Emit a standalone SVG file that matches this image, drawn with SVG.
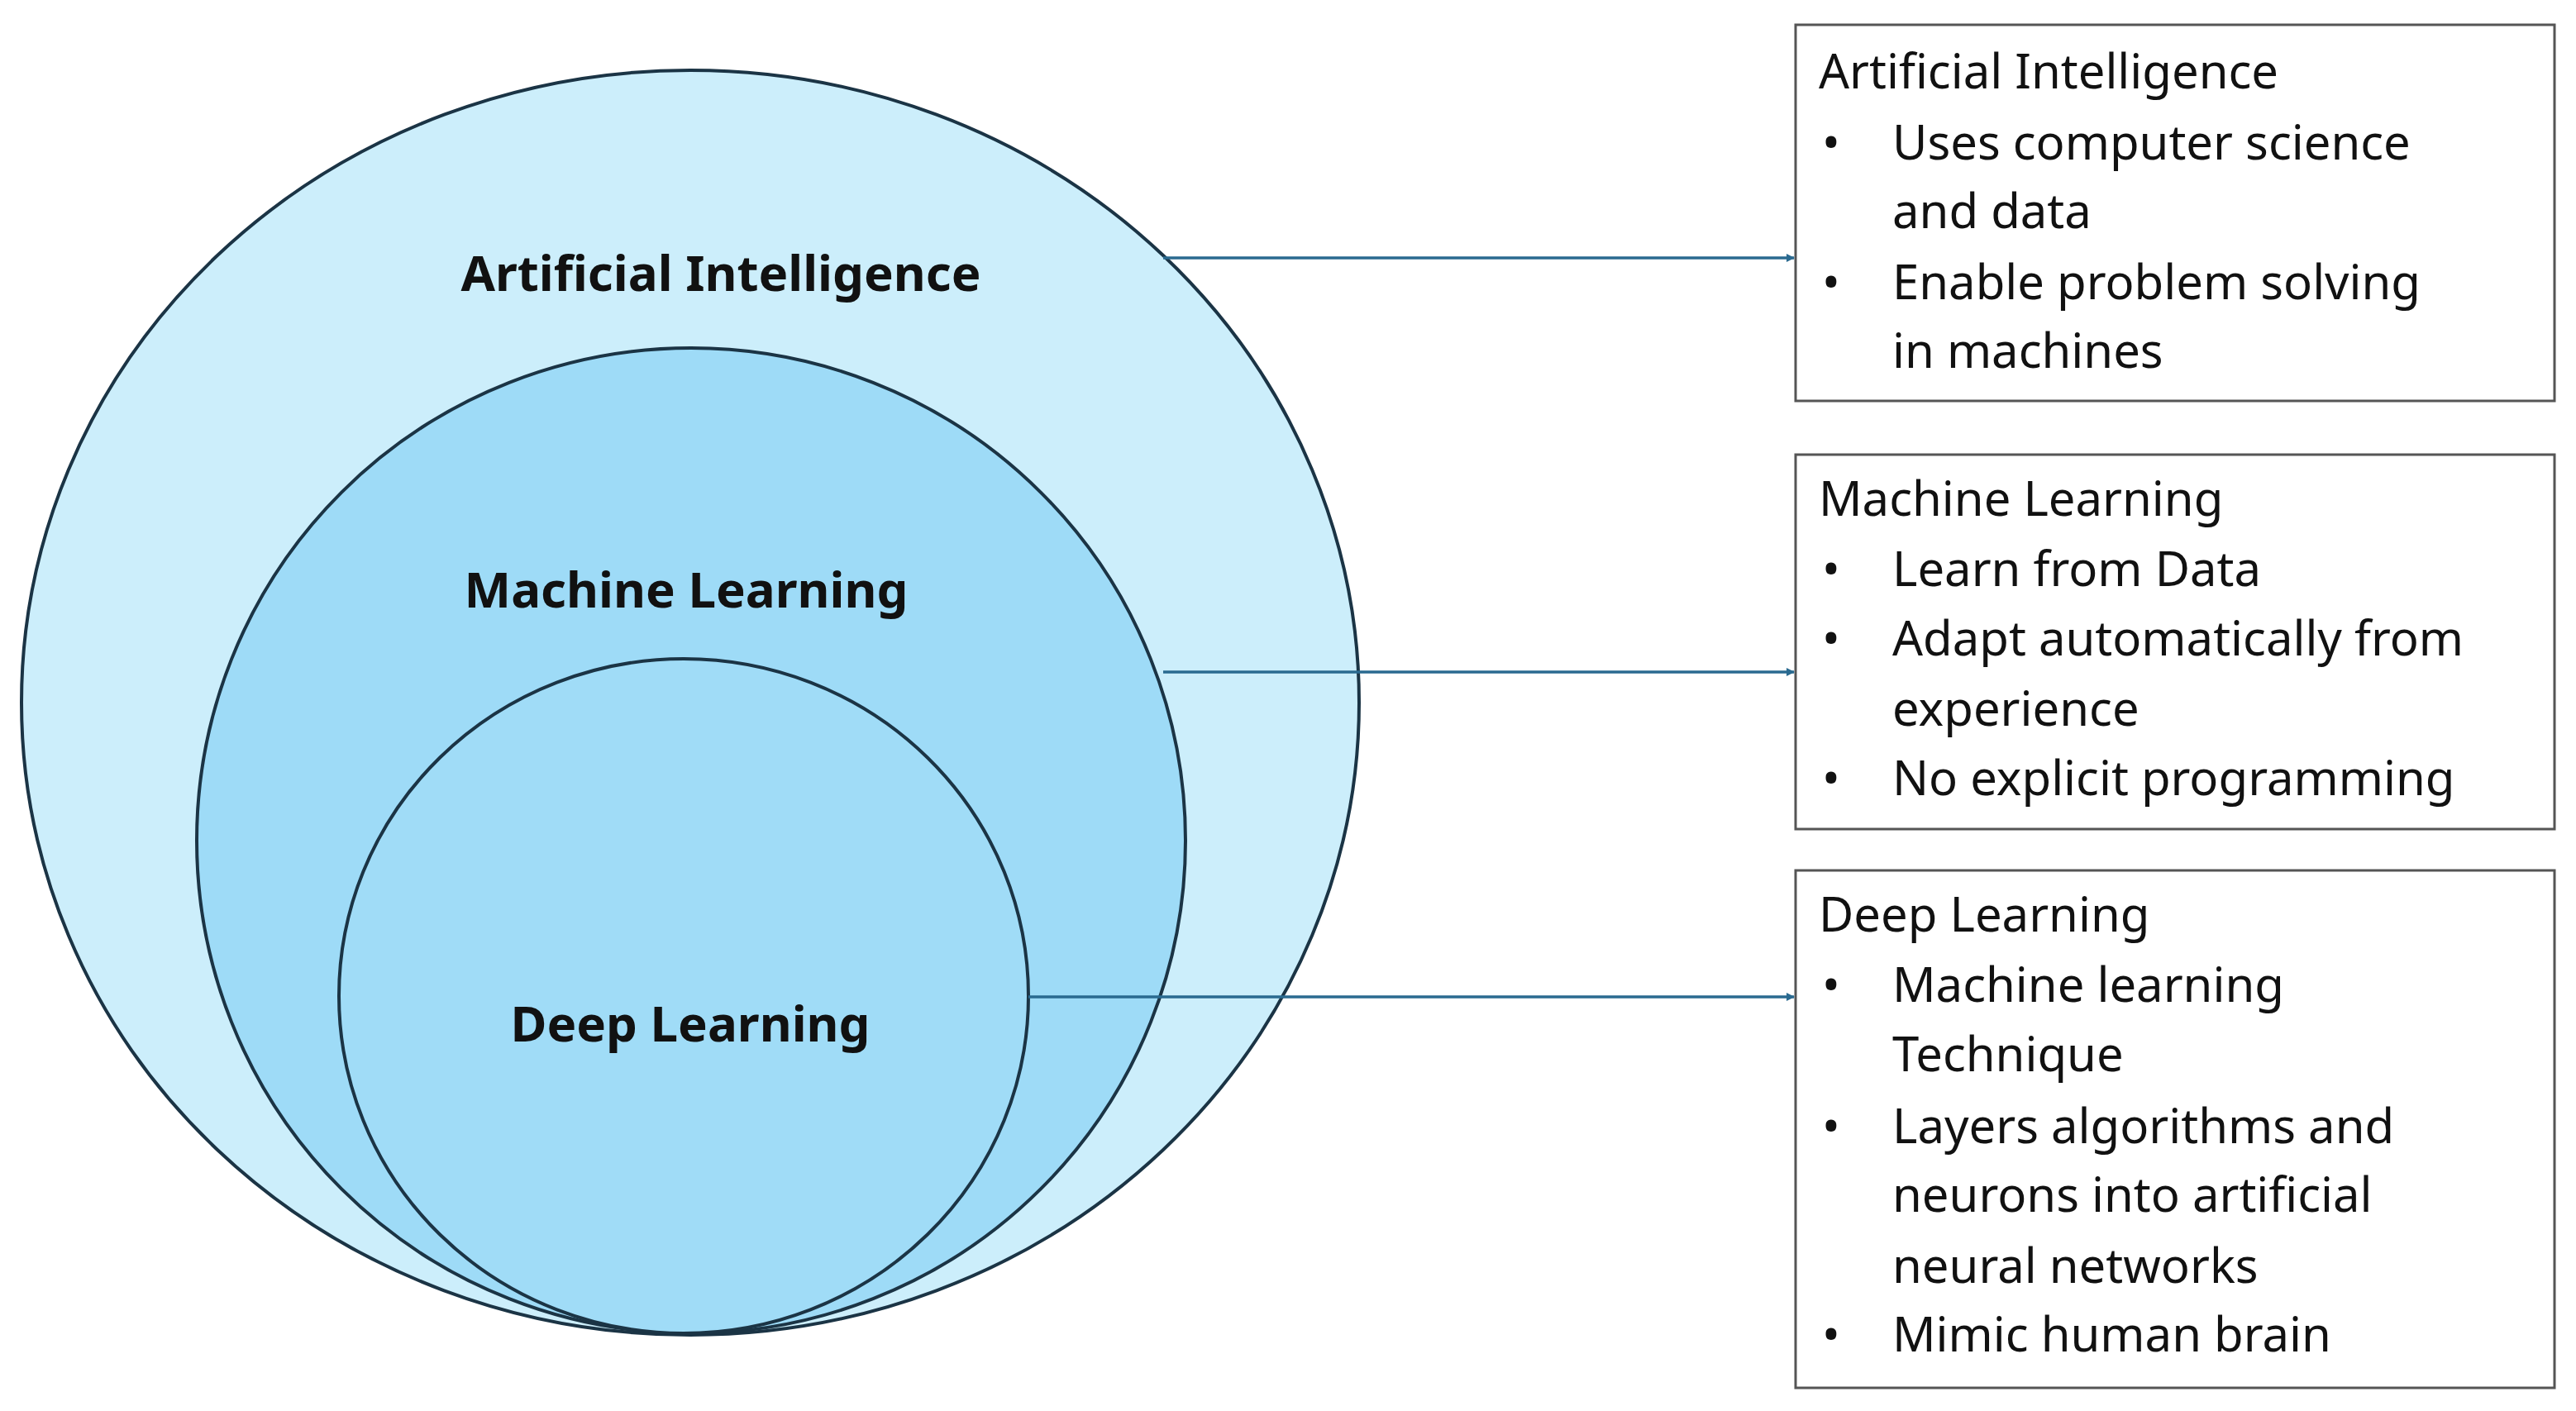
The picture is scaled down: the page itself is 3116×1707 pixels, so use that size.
<svg xmlns="http://www.w3.org/2000/svg" width="3116" height="1707" viewBox="0 0 3116 1707">
<defs>
<marker id="ah" markerWidth="10" markerHeight="10" refX="9" refY="5" orient="auto" markerUnits="userSpaceOnUse" viewBox="0 0 10 10"><path d="M0,0 L10,5 L0,10 z" fill="#2a6a90"/></marker>
<style>
.c{stroke:#1b3445;stroke-width:4}
.lbl{font-family:"Noto Sans","Open Sans",sans-serif;font-weight:bold;font-size:60px;fill:#111;text-anchor:middle}
.box{fill:#fff;stroke:#555;stroke-width:3}
.t{font-family:"Noto Sans","Open Sans",sans-serif;font-size:58px;fill:#111}
.ln{stroke:#2a6a90;stroke-width:3.5;fill:none;marker-end:url(#ah)}
</style>
</defs>
<rect width="3116" height="1707" fill="#fff"/>
<g id="ai"><ellipse class="c" cx="835" cy="850" rx="809" ry="765" fill="#CCEEFB"/><text class="lbl" x="872" y="352">Artificial Intelligence</text></g>
<g id="ml"><ellipse class="c" cx="836" cy="1017" rx="598" ry="596" fill="#9EDBF7"/><text class="lbl" x="830" y="735">Machine Learning</text></g>
<g id="dl"><ellipse class="c" cx="827" cy="1205" rx="417" ry="408" fill="#A0DCF7"/><text class="lbl" x="835" y="1260">Deep Learning</text></g>
<g id="connectors">
<line class="ln" x1="1407" y1="312" x2="2170" y2="312"/>
<line class="ln" x1="1407" y1="813" x2="2170" y2="813"/>
<line class="ln" x1="1244" y1="1206" x2="2170" y2="1206"/>
</g>
<g id="box-ai"><rect class="box" x="2172" y="30" width="918" height="455"/>
<text class="t" x="2200" y="107">Artificial Intelligence</text>
<text class="t" x="2204" y="193">•</text><text class="t" x="2289" y="193">Uses computer science</text>
<text class="t" x="2289" y="276">and data</text>
<text class="t" x="2204" y="362">•</text><text class="t" x="2289" y="362">Enable problem solving</text>
<text class="t" x="2289" y="445">in machines</text></g>
<g id="box-ml"><rect class="box" x="2172" y="550" width="918" height="453"/>
<text class="t" x="2200" y="624">Machine Learning</text>
<text class="t" x="2204" y="709">•</text><text class="t" x="2289" y="709">Learn from Data</text>
<text class="t" x="2204" y="793">•</text><text class="t" x="2289" y="793">Adapt automatically from</text>
<text class="t" x="2289" y="878">experience</text>
<text class="t" x="2204" y="962">•</text><text class="t" x="2289" y="962">No explicit programming</text></g>
<g id="box-dl"><rect class="box" x="2172" y="1053" width="918" height="626"/>
<text class="t" x="2200" y="1127">Deep Learning</text>
<text class="t" x="2204" y="1212">•</text><text class="t" x="2289" y="1212">Machine learning</text>
<text class="t" x="2289" y="1296">Technique</text>
<text class="t" x="2204" y="1383">•</text><text class="t" x="2289" y="1383">Layers algorithms and</text>
<text class="t" x="2289" y="1466">neurons into artificial</text>
<text class="t" x="2289" y="1552">neural networks</text>
<text class="t" x="2204" y="1635">•</text><text class="t" x="2289" y="1635">Mimic human brain</text></g>
</svg>
